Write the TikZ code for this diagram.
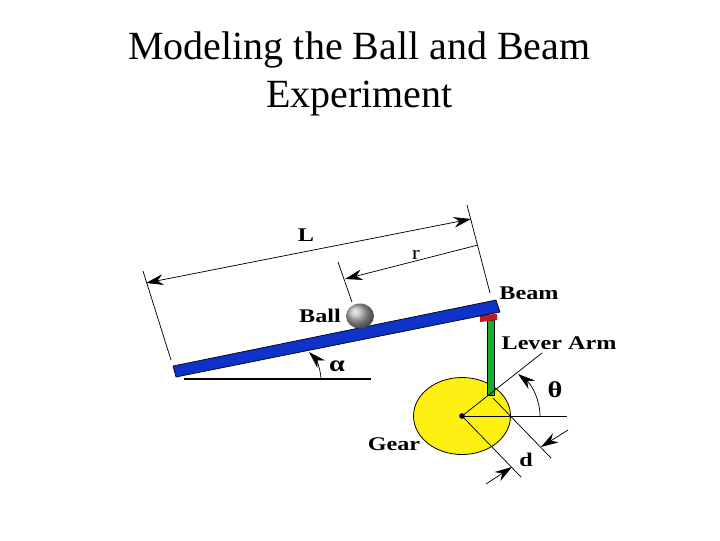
\documentclass[tikz,border=0pt]{standalone}
\usepackage{fontspec}
\setmainfont{Liberation Serif}
\usetikzlibrary{arrows.meta}
\tikzset{
  thinline/.style={draw=black,line width=0.55pt},
  dimline/.style={thinline,-{Stealth[length=13pt,width=8pt]}},
  dimboth/.style={thinline,{Stealth[length=13pt,width=8pt]}-{Stealth[length=13pt,width=8pt]}},
  titletext/.style={inner sep=0.75pt,font=\fontsize{30}{36.5}\selectfont,align=center},
  parttext/.style={inner sep=0.75pt,font=\fontsize{14.5}{17}\selectfont\bfseries,xscale=1.25},
  greektext/.style={inner sep=0.75pt,font=\fontsize{17}{20}\selectfont\bfseries,xscale=1.25},
}
\begin{document}
\begin{tikzpicture}[x=0.75pt,y=0.75pt,yscale=-1,xscale=1]
\useasboundingbox (0,0) rectangle (720,540);

% Text Node
\node [titletext] (title) at (359.5,74) {Modeling the Ball and Beam\\Experiment};

% Named points
\coordinate (lLeftTop) at (143,271);
\coordinate (lLeftEnd) at (171,360);
\coordinate (lRightTop) at (467,205);
\coordinate (lRightEnd) at (490,293);
\coordinate (lTipA) at (146,283);
\coordinate (lTipB) at (471,219);
\coordinate (rTopEnd) at (338,262);
\coordinate (rLowEnd) at (352,302);
\coordinate (rTipA) at (345,279);
\coordinate (rTipB) at (478,245);
\coordinate (groundA) at (184,379);
\coordinate (groundB) at (371,379);
\coordinate (alphaFoot) at (321,378);
\coordinate (alphaTip) at (309,352);
\coordinate (gearC) at (462,416);
\coordinate (gearRay) at (542,353);
\coordinate (gearFlat) at (567,416);
\coordinate (thetaFoot) at (540,416);
\coordinate (thetaTip) at (518,374);
\coordinate (armCorner) at (493,398);
\coordinate (armFar) at (551,458);
\coordinate (gearFar) at (521,477);
\coordinate (dOutA) at (568,430);
\coordinate (dTipA) at (541,447);
\coordinate (dOutB) at (486,484);
\coordinate (dTipB) at (512,467);

%Gear
\draw [fill={rgb,255:red,255;green,240;blue,20},line width=0.6pt] (gearC) ellipse (48.5 and 38.5);
%Lever arm
\draw [fill={rgb,255:red,20;green,175;blue,45},line width=0.5pt] (487,320) rectangle (494,395);
%Pivot
\draw [fill={rgb,255:red,190;green,25;blue,30},draw=none] (480,315) -- (497,314) -- (497,320) -- (480,322) -- cycle;
%Beam
\draw [fill={rgb,255:red,15;green,50;blue,200},line width=0.5pt] (173,366) -- (496,300) -- (500,312) -- (176,377) -- cycle;
%Ball
\shade [ball color=gray!65,shading=ball] (360,316) ellipse (14 and 12.5);

%Straight Lines
\draw [thinline] (lLeftTop) -- (lLeftEnd);
\draw [thinline] (lRightTop) -- (lRightEnd);
\draw [dimboth] (lTipA) -- (lTipB);
\draw [thinline] (rTopEnd) -- (rLowEnd);
\draw [dimline] (rTipB) -- (rTipA);
\draw [line width=1pt] (groundA) -- (groundB);
\draw [dimline] (alphaFoot) .. controls (320,367) and (316,359) .. (alphaTip);
\draw [thinline] (gearC) -- (gearRay);
\draw [thinline] (gearC) -- (gearFlat);
\draw [dimline] (thetaFoot) .. controls (540,400) and (532,385) .. (thetaTip);
\draw [thinline] (armCorner) -- (armFar);
\draw [thinline] (gearC) -- (gearFar);
\draw [dimline] (dOutA) -- (dTipA);
\draw [dimline] (dOutB) -- (dTipB);
\fill (gearC) circle (2.8);

% Text Node
\node [parttext] (labelL) at (306,235) {L};
% Text Node
\node [parttext,font=\fontsize{14.5}{17}\selectfont] (labelr) at (416,255) {r};
% Text Node
\node [parttext] (labelBall) at (320,316) {Ball};
% Text Node
\node [parttext] (labelBeam) at (529,293) {Beam};
% Text Node
\node [parttext] (labelLever) at (559,343) {Lever Arm};
% Text Node
\node [greektext] (labelAlpha) at (337,366) {α};
% Text Node
\node [greektext] (labelTheta) at (555,390) {θ};
% Text Node
\node [parttext] (labelGear) at (394,444) {Gear};
% Text Node
\node [parttext] (labeld) at (526,460) {d};

\end{tikzpicture}
\end{document}
